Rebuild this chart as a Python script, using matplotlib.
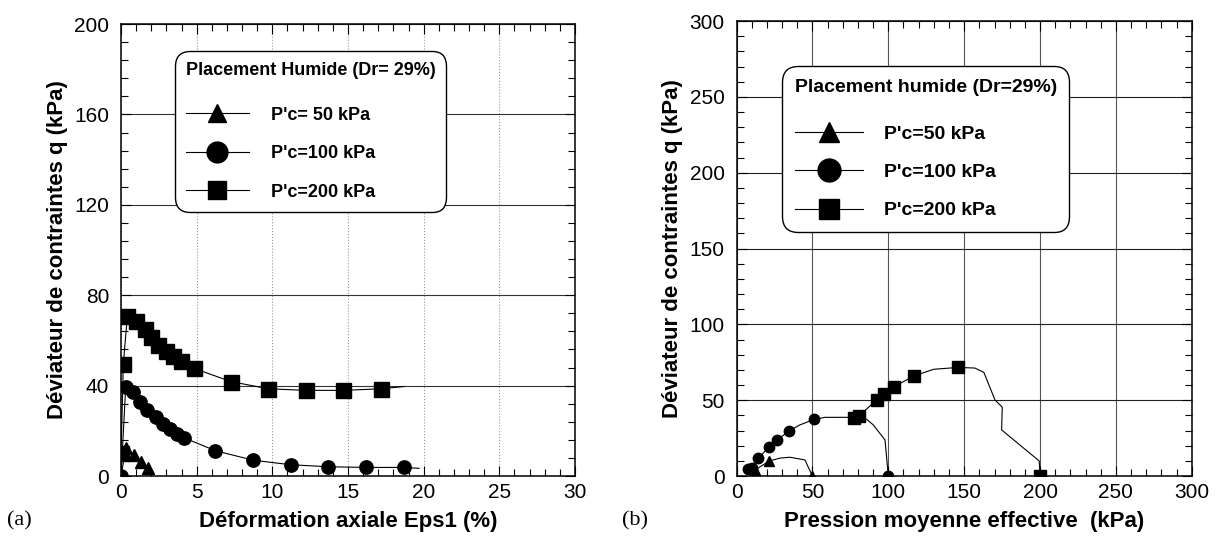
from matplotlib import pyplot as plt
from matplotlib.lines import Line2D
from matplotlib.ticker import MultipleLocator

plt.rcParams['font.family'] = ['Liberation Sans', 'DejaVu Sans']

# (a) deviateur q en fonction de la deformation axiale
eps_50 = [0, 0.31, 0.86, 1.35, 1.81]
q_50 = [0, 12.2, 9.2, 6.3, 3.4]
mk_a50 = [1, 2, 3, 4]
eps_100 = [0, 0.31, 0.79, 1.26, 1.74, 2.3, 2.78, 3.25, 3.69, 4.17, 6.23, 8.74, 11.2, 13.7, 16.2, 18.7, 19.7]
q_100 = [0, 39.6, 37.1, 32.7, 29.1, 26.1, 23.2, 21.0, 18.8, 16.9, 11.2, 7.0, 5.0, 4.1, 3.8, 3.8, 3.4]
mk_a100 = list(range(16))
eps_200 = [0, 0, 0.15, 0.42, 1.0, 1.55, 1.96, 2.45, 2.96, 3.44, 3.95, 4.79, 7.26, 9.73, 12.2, 14.7, 17.2, 18.7]
q_200 = [0, 10, 49.6, 70.9, 68.4, 65.0, 61.4, 58.1, 55.5, 53.3, 51.1, 47.7, 41.8, 38.6, 37.9, 37.9, 38.6, 39.6]
mk_a200 = list(range(1, 17))

# (b) chemins de contraintes q - p'
p_50 = [50, 45, 35.1, 28.5, 21.5, 12.1]
qp_50 = [0, 10.6, 12.4, 11.8, 9.9, 4.0]
mk_b50 = [0, 4, 5]
p_100 = [100, 97.8, 90.1, 85.7, 76.9, 58.2, 51.2, 41.7, 34.5, 26.8, 21.5, 14.3, 9.9, 7.7]
qp_100 = [0, 23.8, 33.7, 37.4, 38.7, 38.7, 37.4, 33.7, 29.7, 23.8, 19.3, 11.7, 5.5, 4.4]
mk_b100 = [0, 6, 8, 9, 10, 11, 12, 13]
p_200 = [200, 199.5, 174.7, 175.1, 170.3, 163, 157.1, 146.1, 130, 117.1, 103.9, 97.3, 92.3, 80.8, 77.3]
qp_200 = [0, 9.9, 30.4, 45.4, 50.2, 68.3, 71.2, 71.6, 70.4, 66.1, 59.0, 54.0, 50.2, 39.7, 38.1]
mk_b200 = [0, 7, 9, 10, 11, 12, 13, 14]

labels_a = ["P'c= 50 kPa", "P'c=100 kPa", "P'c=200 kPa"]
labels_b = ["P'c=50 kPa", "P'c=100 kPa", "P'c=200 kPa"]

fig = plt.figure(figsize=(12.19, 5.41), dpi=100)
ax1 = fig.add_axes([0.0993, 0.1201, 0.3724, 0.8355])
ax2 = fig.add_axes([0.6043, 0.1201, 0.3733, 0.841])


def style_axes(ax):
    ax.set_axisbelow(True)
    ax.tick_params(which='both', direction='in', top=True, right=True, labelsize=15, width=0.8)
    ax.tick_params(which='major', length=7)
    ax.tick_params(which='minor', length=5)
    ax.tick_params(axis='x', pad=5)
    ax.tick_params(axis='y', pad=8.5)
    for s in ax.spines.values():
        s.set_linewidth(1.1)


# ---- (a)
ax1.plot(eps_50, q_50, 'k-', lw=0.8, marker='^', ms=8.6, markevery=mk_a50)
ax1.plot(eps_100, q_100, 'k-', lw=0.8, marker='o', ms=9.6, markevery=mk_a100)
ax1.plot(eps_200, q_200, 'k-', lw=0.8, marker='s', ms=10.8, markevery=mk_a200)
ax1.set_xlim(0, 30)
ax1.set_ylim(0, 200)
ax1.xaxis.set_major_locator(MultipleLocator(5))
ax1.xaxis.set_minor_locator(MultipleLocator(1))
ax1.yaxis.set_major_locator(MultipleLocator(40))
ax1.yaxis.set_minor_locator(MultipleLocator(8))
ax1.grid(axis='y', color='#333333', lw=0.8)
ax1.grid(axis='x', color='#999999', lw=0.8, ls=':')
style_axes(ax1)
ax1.set_xlabel('Déformation axiale Eps1 (%)', fontsize=16, fontweight='bold', va='center')
ax1.xaxis.set_label_coords(0.5, -0.0996)
ax1.set_ylabel('Déviateur de contraintes q (kPa)', fontsize=16, fontweight='bold', va='center')
ax1.yaxis.set_label_coords(-0.139, 0.5)

h1 = [Line2D([], [], color='k', lw=0.8, marker='^', ms=13),
      Line2D([], [], color='k', lw=0.8, marker='o', ms=15),
      Line2D([], [], color='k', lw=0.8, marker='s', ms=13)]
leg1 = ax1.legend(h1, labels_a, title='Placement Humide (Dr= 29%)', loc='upper left',
                  bbox_to_anchor=(0.119, 0.940), borderaxespad=0,
                  prop={'weight': 'bold', 'size': 13},
                  title_fontproperties={'weight': 'bold', 'size': 13},
                  handlelength=3.5, handletextpad=1.2, labelspacing=1.19, borderpad=0.6,
                  alignment='left', framealpha=1, edgecolor='k', fancybox=True)
leg1._legend_box.sep = 20  # ecart titre / lignes
leg1.get_frame().set_boxstyle('round', pad=0, rounding_size=0.8)
leg1.get_frame().set_linewidth(1)

# ---- (b)
ax2.plot(p_50, qp_50, 'k-', lw=0.8, marker='^', ms=7, markevery=mk_b50)
ax2.plot(p_100, qp_100, 'k-', lw=0.8, marker='o', ms=7.5, markevery=mk_b100)
ax2.plot(p_200, qp_200, 'k-', lw=0.8, marker='s', ms=8.8, markevery=mk_b200)
ax2.set_xlim(0, 300)
ax2.set_ylim(0, 300)
ax2.xaxis.set_major_locator(MultipleLocator(50))
ax2.xaxis.set_minor_locator(MultipleLocator(10))
ax2.yaxis.set_major_locator(MultipleLocator(50))
ax2.yaxis.set_minor_locator(MultipleLocator(10))
ax2.grid(axis='y', color='#222222', lw=0.8)
ax2.grid(axis='x', color='#555555', lw=0.8)
style_axes(ax2)
ax2.set_xlabel('Pression moyenne effective  (kPa)', fontsize=16, fontweight='bold', va='center')
ax2.xaxis.set_label_coords(0.5, -0.099)
ax2.set_ylabel('Déviateur de contraintes q (kPa)', fontsize=16, fontweight='bold', va='center')
ax2.yaxis.set_label_coords(-0.14, 0.5)

h2 = [Line2D([], [], color='k', lw=0.8, marker='^', ms=14),
      Line2D([], [], color='k', lw=0.8, marker='o', ms=16.5),
      Line2D([], [], color='k', lw=0.8, marker='s', ms=14)]
leg2 = ax2.legend(h2, labels_b, title='Placement humide (Dr=29%)', loc='upper left',
                  bbox_to_anchor=(0.0996, 0.901), borderaxespad=0,
                  prop={'weight': 'bold', 'size': 14},
                  title_fontproperties={'weight': 'bold', 'size': 14},
                  handlelength=3.5, handletextpad=1.1, labelspacing=1.07, borderpad=0.65,
                  alignment='left', framealpha=1, edgecolor='k', fancybox=True)
leg2._legend_box.sep = 21
leg2.get_frame().set_boxstyle('round', pad=0, rounding_size=0.8)
leg2.get_frame().set_linewidth(1)

fig.text(7 / 1219, 1 - 521 / 541, '(a)', family=['Liberation Serif', 'DejaVu Serif'], size=16, va='center')
fig.text(622 / 1219, 1 - 521 / 541, '(b)', family=['Liberation Serif', 'DejaVu Serif'], size=16, va='center')

fig.savefig('out.png', dpi=100)
